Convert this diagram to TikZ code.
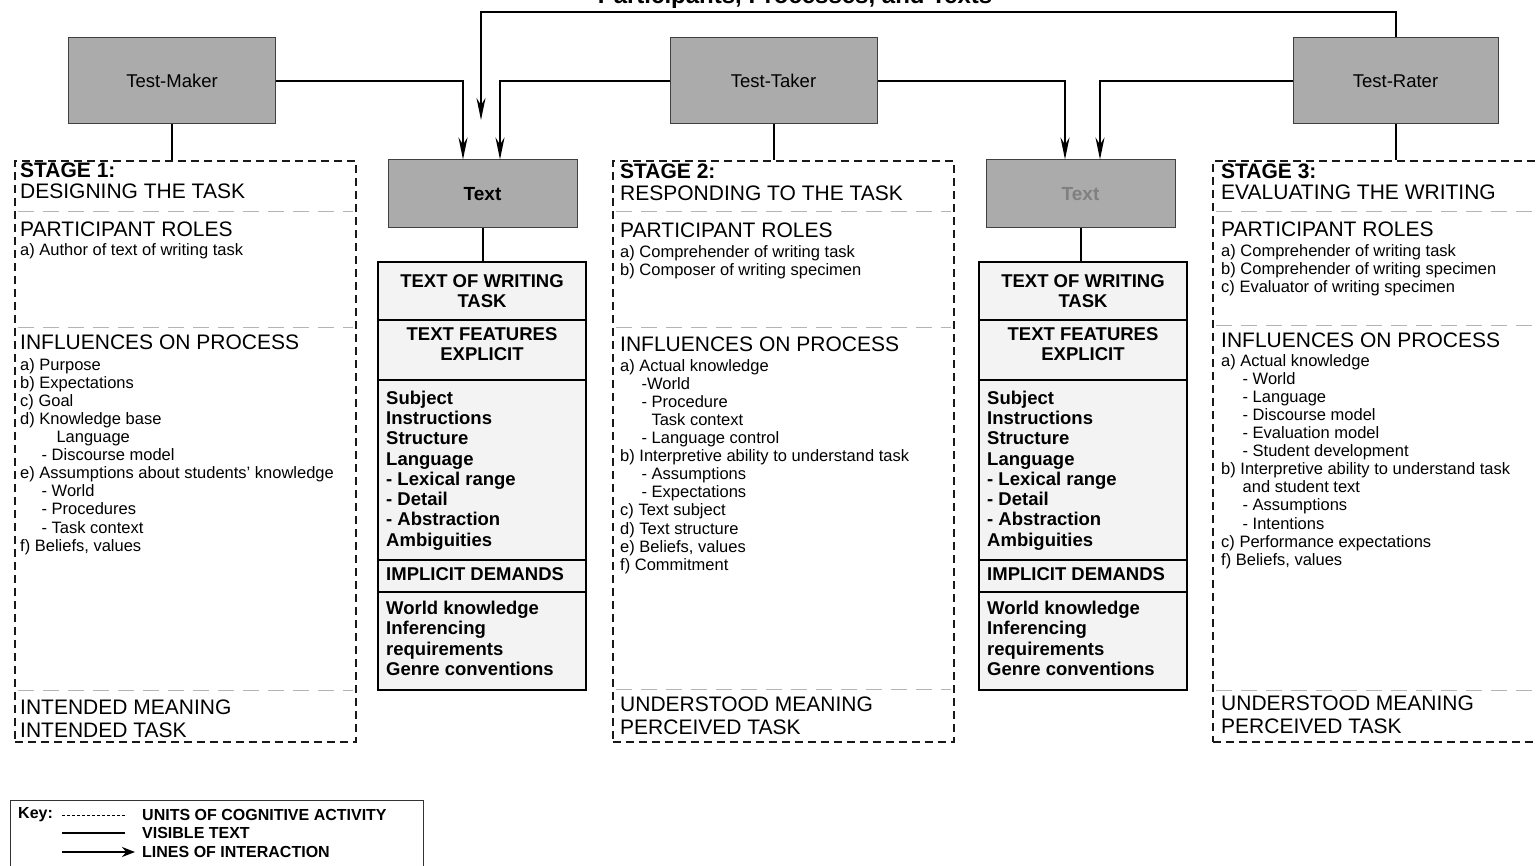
\documentclass[tikz,border=0pt]{standalone}
\usepackage{fontspec}
\setmainfont{Liberation Sans}
\usetikzlibrary{arrows.meta}

\definecolor{boxgray}{HTML}{ABABAB}
\definecolor{tabfill}{HTML}{F3F3F3}
\definecolor{sepgray}{HTML}{B4B4B4}

% one "text of writing task" table, #1 = name prefix, #2 = left x
\newcommand{\wtable}[2]{%
  \node[tabrow, minimum height=58pt] (#1a) at (#2,262) {};
  \node[tabrow, minimum height=60pt] (#1b) at (#1a.south west) {};
  \node[tabrow, minimum height=180pt] (#1c) at (#1b.south west) {};
  \node[tabrow, minimum height=32pt] (#1d) at (#1c.south west) {};
  \node[tabrow, minimum height=98pt] (#1e) at (#1d.south west) {};
  \node[tabhead] (#1at) at (#1a.center) {TEXT OF WRITING\\TASK};
  \node[tabhead] (#1bt) at ([yshift=5.5pt]#1b.center) {TEXT FEATURES\\EXPLICIT};
  \node[tablist] (#1ct) at ([xshift=8pt,yshift=-10.5pt]#1c.north west)
    {Subject\\Instructions\\Structure\\Language\\- Lexical range\\- Detail\\- Abstraction\\Ambiguities};
  \node[tabhead, anchor=west] (#1dt) at ([xshift=8pt,yshift=1.5pt]#1d.west) {IMPLICIT DEMANDS};
  \node[tablist] (#1et) at ([xshift=8pt,yshift=-9pt]#1e.north west)
    {World knowledge\\Inferencing\\requirements\\Genre conventions};
}

\begin{document}
\begin{tikzpicture}[x=1pt,y=-1pt,
  actor/.style={draw=black!75, line width=1pt, fill=boxgray, minimum width=207pt,
    minimum height=86pt, inner sep=0pt, font=\fontsize{18.5}{21}\selectfont},
  textbox/.style={draw=black!75, line width=1pt, fill=boxgray, minimum width=189pt,
    minimum height=68pt, inner sep=0pt, font=\bfseries\fontsize{19}{21}\selectfont},
  stagebox/.style={draw=black!90, line width=1.6pt, dash pattern=on 8pt off 5pt,
    anchor=north west, minimum width=341pt, minimum height=581pt, inner sep=0pt},
  sep/.style={draw=sepgray, line width=1pt, dash pattern=on 16pt off 9pt},
  tabrow/.style={draw=black, line width=2pt, fill=tabfill, anchor=north west,
    minimum width=208pt, inner sep=0pt, outer sep=0pt},
  tabhead/.style={inner sep=0pt, align=center, font=\bfseries\fontsize{18.5}{20}\selectfont},
  tablist/.style={anchor=north west, inner sep=0pt, align=left,
    font=\bfseries\fontsize{18.5}{20.3}\selectfont},
  head/.style={anchor=west, inner sep=0pt, font=\fontsize{21}{24}\selectfont},
  lst/.style={anchor=north west, inner sep=0pt, align=left,
    font=\fontsize{16.5}{18.1}\selectfont},
  conn/.style={draw=black, line width=2pt},
  arr/.style={conn, -{Stealth[length=22pt,width=9pt]}},
  keytxt/.style={anchor=west, inner sep=0pt, font=\bfseries\fontsize{16}{18}\selectfont}]

\useasboundingbox (0,0) rectangle (1537,866);

% heading cut by the top edge
\node[anchor=base, inner sep=0pt, font=\bfseries\fontsize{24}{28}\selectfont]
  (title) at (795,4) {Participants, Processes, and Texts};

% participants
\node[actor] (maker) at (172,81) {Test-Maker};
\node[actor] (taker) at (773.5,81) {Test-Taker};
\node[actor, minimum width=205pt] (rater) at (1395.5,81) {Test-Rater};

% texts
\node[textbox] (text1) at (482.5,194) {Text};
\node[textbox, text=black!50] (text2) at (1080.5,194) {Text};

% stage boxes
\node[stagebox] (s1) at (14,160) {};
\node[stagebox] (s2) at (612,160) {};
\node[stagebox, minimum width=345pt] (s3) at (1212,160) {};

% inner separators
\foreach \bx/\yy in {s1/212, s1/328, s1/690, s2/212, s2/328, s2/689, s3/212, s3/326, s3/690}{
  \path[sep] ([xshift=4pt]\bx.west |- 0,\yy) -- ([xshift=-4pt]\bx.east |- 0,\yy);
}

% stage 1 text
\node[head, font=\bfseries\fontsize{21}{24}\selectfont] (s1h) at (20,170) {STAGE 1:};
\node[head] (s1t) at (20,191) {DESIGNING THE TASK};
\node[head] (s1r) at (20,229) {PARTICIPANT ROLES};
\node[lst] (s1rl) at (20,243) {a) Author of text of writing task};
\node[head] (s1i) at (20,342) {INFLUENCES ON PROCESS};
\node[lst] (s1il) at (20,358) {a) Purpose\\b) Expectations\\c) Goal\\d) Knowledge base\\
  \hspace*{2.2em}Language\\\hspace*{1.3em}- Discourse model\\
  e) Assumptions about students' knowledge\\\hspace*{1.3em}- World\\
  \hspace*{1.3em}- Procedures\\\hspace*{1.3em}- Task context\\f) Beliefs, values};
\node[head] (s1m) at (20,707) {INTENDED MEANING};
\node[head] (s1k) at (20,730) {INTENDED TASK};

% stage 2 text
\node[head, font=\bfseries\fontsize{21}{24}\selectfont] (s2h) at (620,171) {STAGE 2:};
\node[head] (s2t) at (620,193) {RESPONDING TO THE TASK};
\node[head] (s2r) at (620,230) {PARTICIPANT ROLES};
\node[lst] (s2rl) at (620,245) {a) Comprehender of writing task\\b) Composer of writing specimen};
\node[head] (s2i) at (620,344) {INFLUENCES ON PROCESS};
\node[lst] (s2il) at (620,359) {a) Actual knowledge\\\hspace*{1.3em}-World\\
  \hspace*{1.3em}- Procedure\\\hspace*{1.9em}Task context\\\hspace*{1.3em}- Language control\\
  b) Interpretive ability to understand task\\\hspace*{1.3em}- Assumptions\\
  \hspace*{1.3em}- Expectations\\c) Text subject\\d) Text structure\\e) Beliefs, values\\f) Commitment};
\node[head] (s2m) at (620,704) {UNDERSTOOD MEANING};
\node[head] (s2k) at (620,727) {PERCEIVED TASK};

% stage 3 text
\node[head, font=\bfseries\fontsize{21}{24}\selectfont] (s3h) at (1221,171) {STAGE 3:};
\node[head] (s3t) at (1221,192) {EVALUATING THE WRITING};
\node[head] (s3r) at (1221,229) {PARTICIPANT ROLES};
\node[lst] (s3rl) at (1221,244) {a) Comprehender of writing task\\b) Comprehender of writing specimen\\
  c) Evaluator of writing specimen};
\node[head] (s3i) at (1221,340) {INFLUENCES ON PROCESS};
\node[lst] (s3il) at (1221,354) {a) Actual knowledge\\\hspace*{1.3em}- World\\\hspace*{1.3em}- Language\\
  \hspace*{1.3em}- Discourse model\\\hspace*{1.3em}- Evaluation model\\\hspace*{1.3em}- Student development\\
  b) Interpretive ability to understand task\\\hspace*{1.3em}and student text\\
  \hspace*{1.3em}- Assumptions\\\hspace*{1.3em}- Intentions\\c) Performance expectations\\f) Beliefs, values};
\node[head] (s3m) at (1221,703) {UNDERSTOOD MEANING};
\node[head] (s3k) at (1221,726) {PERCEIVED TASK};

% text-of-task tables
\wtable{ta}{378}
\wtable{tb}{979}

% visible text links
\draw[conn] (maker.south) -- (maker.south |- s1.north);
\draw[conn] (taker.south) -- (taker.south |- s2.north);
\draw[conn] (rater.south) -- (rater.south |- s3.north);
\draw[conn] (text1.south) -- (text1.south |- taa.north);
\draw[conn] (text2.south) -- (text2.south |- tba.north);

% lines of interaction
\coordinate (topend) at (481,120);
\draw[arr] (maker.east) -| ([xshift=-19.5pt]text1.north);
\draw[arr] (taker.west) -| ([xshift=17.5pt]text1.north);
\draw[arr] (taker.east) -| ([xshift=-15.5pt]text2.north);
\draw[arr] (rater.west) -| ([xshift=19.5pt]text2.north);
\draw[arr] (rater.north) -- (rater.north |- 0,12) -| (topend);

% key
\node[draw=black!80, line width=1.2pt, anchor=north west, minimum width=413pt,
  minimum height=80pt, inner sep=0pt] (key) at (10,800) {};
\node[keytxt] (keyk) at (18,815) {Key:};
\coordinate (k1a) at (62,815); \coordinate (k1b) at (125,815);
\coordinate (k2a) at (62,833); \coordinate (k2b) at (125,833);
\coordinate (k3a) at (62,852); \coordinate (k3b) at (135,852);
\draw[line width=1pt, dash pattern=on 3pt off 2pt] (k1a) -- (k1b);
\draw[line width=1.5pt] (k2a) -- (k2b);
\draw[line width=2pt, -{Stealth[length=13pt,width=10pt]}] (k3a) -- (k3b);
\node[keytxt] (key1) at (142,815) {UNITS OF COGNITIVE ACTIVITY};
\node[keytxt] (key2) at (142,833) {VISIBLE TEXT};
\node[keytxt] (key3) at (142,852) {LINES OF INTERACTION};

\end{tikzpicture}
\end{document}
